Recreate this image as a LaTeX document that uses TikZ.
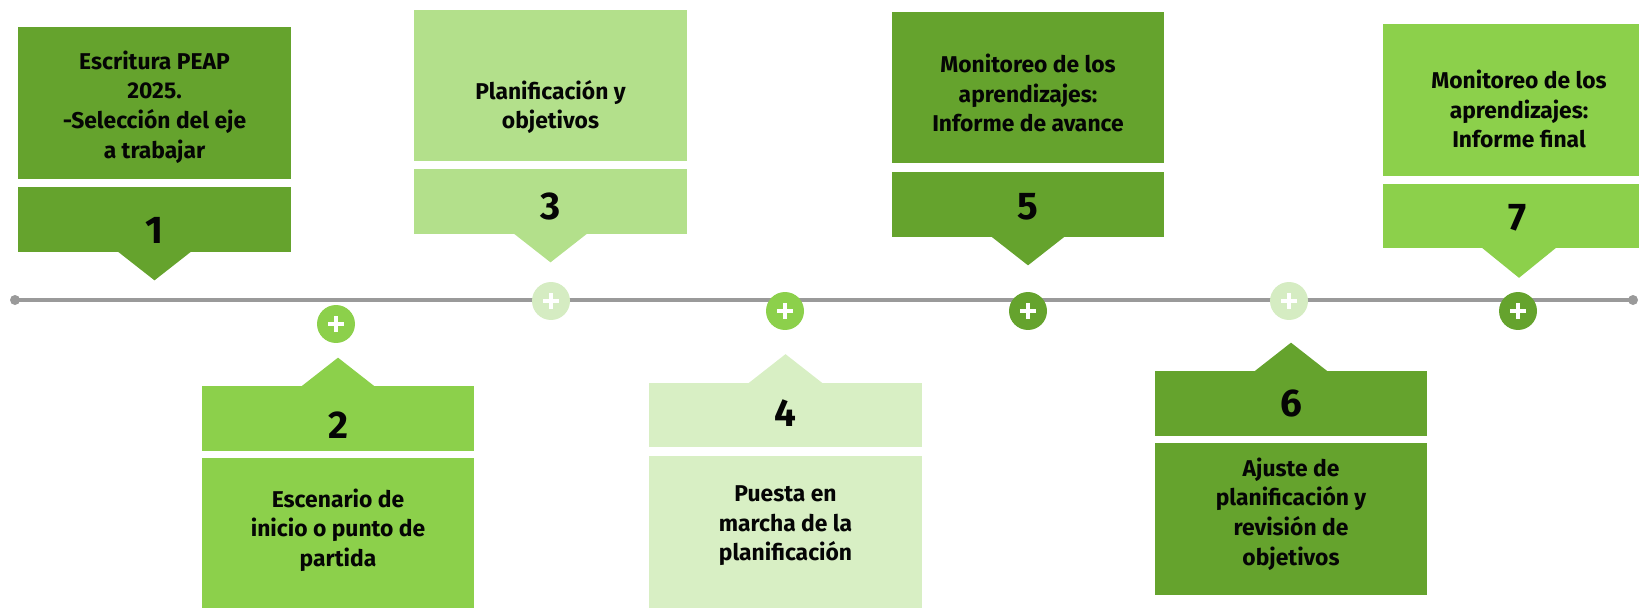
\documentclass[tikz,border=0pt]{standalone}
\usepackage{fontspec}
\setmainfont{Fira Sans}
\usepackage{tikz}

\definecolor{verdeOsc}{HTML}{65A32D}
\definecolor{verdeMed}{HTML}{8CD04B}
\definecolor{verdeCla}{HTML}{B3E08B}
\definecolor{verdePal}{HTML}{D8EFC4}
\definecolor{rondaPal}{HTML}{D5ECC2}
\definecolor{grisLinea}{HTML}{9A9A9A}
\definecolor{tinta}{HTML}{050505}

\tikzset{
  caja/.style={rectangle, inner sep=0pt, minimum width=5.46cm, minimum height=3.04cm},
  cajanum/.style={rectangle, inner sep=0pt, minimum width=5.46cm, minimum height=1.3cm},
  etiq/.style={align=center, text=tinta, font=\bfseries\fontsize{13}{16.8}\selectfont},
  cifra/.style={text=tinta, font=\bfseries\fontsize{22}{22}\selectfont},
  hito/.style={circle, inner sep=0pt, minimum size=0.76cm,
    path picture={\draw[white, line width=2pt]
      ([xshift=-0.16cm]path picture bounding box.center) -- ([xshift=0.16cm]path picture bounding box.center)
      ([yshift=-0.16cm]path picture bounding box.center) -- ([yshift=0.16cm]path picture bounding box.center);}},
  extremo/.style={circle, inner sep=0pt, minimum size=0.2cm, fill=grisLinea}
}

\begin{document}
\begin{tikzpicture}[x=0.02cm, y=-0.02cm]

\useasboundingbox (0,0) rectangle (1639,608);
\clip (0,0) rectangle (1639,608);

% LINEA %%%%%%%%%%%%%%%%%%%%%%%%%%%%%%%%%%%%%%%%%%%%%%%%%%%%%%%%%%%%%%%%%%

\node[extremo] (Ini) at (15,300) {};
\node[extremo] (Fin) at (1633,300) {};
\draw[line width = 2pt, color = grisLinea] (Ini.center) -- (Fin.center);

% CAJAS ARRIBA %%%%%%%%%%%%%%%%%%%%%%%%%%%%%%%%%%%%%%%%%%%%%%%%%%%%%%%%%%%

\node[caja, fill=verdeOsc] (B1) at (154.5,103) {};
\node[cajanum, fill=verdeOsc] (N1) at (154.5,219.5) {};
\fill[verdeOsc] ([xshift=-0.74cm,yshift=0.02cm]N1.south) -- ([xshift=0.74cm,yshift=0.02cm]N1.south) -- ([yshift=-0.56cm]N1.south) -- cycle;

\node[caja, fill=verdeCla] (B3) at (550.5,85.5) {};
\node[cajanum, fill=verdeCla] (N3) at (550.5,201.5) {};
\fill[verdeCla] ([xshift=-0.74cm,yshift=0.02cm]N3.south) -- ([xshift=0.74cm,yshift=0.02cm]N3.south) -- ([yshift=-0.56cm]N3.south) -- cycle;

\node[caja, fill=verdeOsc] (B5) at (1028,87.5) {};
\node[cajanum, fill=verdeOsc] (N5) at (1028,204.5) {};
\fill[verdeOsc] ([xshift=-0.74cm,yshift=0.02cm]N5.south) -- ([xshift=0.74cm,yshift=0.02cm]N5.south) -- ([yshift=-0.56cm]N5.south) -- cycle;

\node[caja, fill=verdeMed] (B7) at (1519,100) {};
\node[cajanum, fill=verdeMed] (N7) at (1519,216) {};
\fill[verdeMed] ([xshift=-0.74cm,yshift=0.02cm]N7.south) -- ([xshift=0.74cm,yshift=0.02cm]N7.south) -- ([yshift=-0.58cm]N7.south) -- cycle;

% CAJAS ABAJO %%%%%%%%%%%%%%%%%%%%%%%%%%%%%%%%%%%%%%%%%%%%%%%%%%%%%%%%%%%%

\node[cajanum, fill=verdeMed] (N2) at (338,418.5) {};
\node[caja, fill=verdeMed] (B2) at (338,534) {};
\fill[verdeMed] ([xshift=-0.74cm,yshift=-0.02cm]N2.north) -- ([xshift=0.74cm,yshift=-0.02cm]N2.north) -- ([yshift=0.56cm]N2.north) -- cycle;

\node[cajanum, fill=verdePal] (N4) at (785.5,415) {};
\node[caja, fill=verdePal] (B4) at (785.5,532) {};
\fill[verdePal] ([xshift=-0.74cm,yshift=-0.02cm]N4.north) -- ([xshift=0.74cm,yshift=-0.02cm]N4.north) -- ([yshift=0.56cm]N4.north) -- cycle;

\node[cajanum, fill=verdeOsc] (N6) at (1291,403.5) {};
\node[caja, fill=verdeOsc] (B6) at (1291,519) {};
\fill[verdeOsc] ([xshift=-0.74cm,yshift=-0.02cm]N6.north) -- ([xshift=0.74cm,yshift=-0.02cm]N6.north) -- ([yshift=0.56cm]N6.north) -- cycle;

% HITOS %%%%%%%%%%%%%%%%%%%%%%%%%%%%%%%%%%%%%%%%%%%%%%%%%%%%%%%%%%%%%%%%%%

\node[hito, fill=verdeMed] (C2) at (336,324) {};
\node[hito, fill=rondaPal] (C3) at (551,301) {};
\node[hito, fill=verdeMed] (C4) at (785,311) {};
\node[hito, fill=verdeOsc] (C5) at (1028,311) {};
\node[hito, fill=rondaPal] (C6) at (1289,301) {};
\node[hito, fill=verdeOsc] (C7) at (1518,311) {};

% ETIQUETAS

\node[cifra] (D1) at (154.5,230) {1};
\node[cifra] (D2) at (338,425) {2};
\node[cifra] (D3) at (550.5,206) {3};
\node[cifra] (D4) at (785.5,413) {4};
\node[cifra] (D5) at (1028,207) {5};
\node[cifra] (D6) at (1291,403) {6};
\node[cifra] (D7) at (1518,218) {7};

\node[etiq] (T1) at (154.5,107) {Escritura PEAP\\2025.\\-Selección del eje\\a trabajar};
\node[etiq] (T2) at (338,530) {Escenario de\\inicio o punto de\\partida};
\node[etiq] (T3) at (550.5,107) {Planificación y\\objetivos};
\node[etiq] (T4) at (785.5,526) {Puesta en\\marcha de la\\planificación};
\node[etiq] (T5) at (1028,93) {Monitoreo de los\\aprendizajes:\\Informe de avance};
\node[etiq] (T6) at (1291,514) {Ajuste de\\planificación y\\revisión de\\objetivos};
\node[etiq] (T7) at (1519,109) {Monitoreo de los\\aprendizajes:\\Informe final};

\end{tikzpicture}
\end{document}
